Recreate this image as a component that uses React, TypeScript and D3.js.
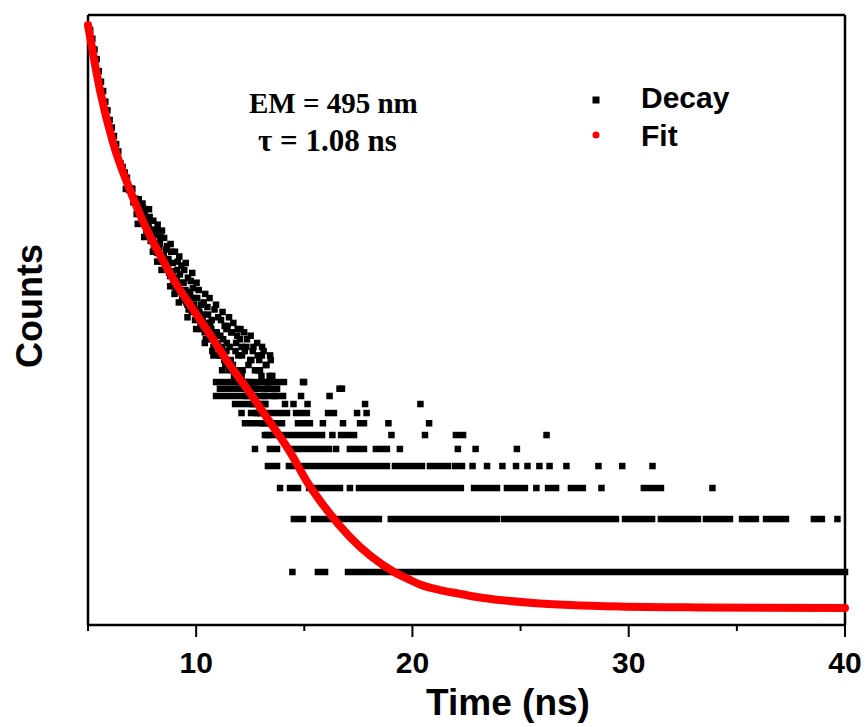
import React from "react";
import * as d3 from "d3";

// ---------- DATA ----------
const xTicksMajor = [10, 20, 30, 40];
const xTicksMinor = [5, 15, 25, 35];
const xLabel = "Time (ns)";
const yLabel = "Counts";
const annotation1 = "EM = 495 nm";
const annotation2 = "\u03c4 = 1.08 ns";
const legendDecay = "Decay";
const legendFit = "Fit";

// Decay: dense early part, [time ns, counts]
const decayHead: [number, number][] = [
  [5.0, 1259], [5.1, 1200], [5.2, 1070], [5.3, 930], [5.4, 820], [5.5, 700], [5.6, 610], [5.7, 540], [5.8, 470], [5.9, 420],
  [6.0, 370], [6.1, 335], [6.2, 300], [6.3, 270], [6.4, 245], [6.5, 210], [6.6, 200], [6.7, 186], [6.8, 174], [6.9, 148],
  [7.0, 151], [7.1, 126], [7.2, 132], [7.3, 112], [7.4, 117], [7.5, 98], [7.6, 102], [7.7, 87], [7.8, 91], [7.9, 76],
  [8.0, 79], [8.1, 74], [8.2, 65], [8.3, 69], [8.4, 58], [8.5, 63], [8.6, 54], [8.7, 56], [8.8, 48], [8.9, 51],
  [9.0, 42], [9.1, 47], [9.2, 39], [9.3, 44], [9.4, 35], [9.5, 40], [9.6, 33], [9.7, 36], [9.8, 30], [9.9, 33],
  [10.0, 28], [10.1, 31], [10.2, 25], [10.3, 28], [10.4, 23], [10.5, 26], [10.6, 21], [10.7, 24], [10.8, 19], [10.9, 22],
  [11.0, 20], [11.1, 17], [11.2, 19], [11.3, 16], [11.4, 18], [11.5, 14], [11.6, 16], [11.7, 15], [11.8, 13], [11.9, 14],
  [12.0, 12], [12.1, 13], [12.2, 12], [12.3, 10], [12.4, 11], [12.5, 11], [12.6, 9], [12.7, 10], [12.8, 8], [12.9, 9],
  [13.0, 8], [13.1, 7], [13.2, 9], [13.3, 6], [13.4, 7],
];
const decayHead2: [number, number][] = [
  [7.05, 150], [7.15, 128], [7.25, 108], [7.35, 131], [7.45, 95], [7.55, 117], [7.65, 100], [7.75, 84], [7.85, 104], [7.95, 78],
  [8.05, 70], [8.15, 88], [8.25, 66], [8.35, 80], [8.45, 61], [8.55, 58], [8.65, 71], [8.75, 50], [8.85, 66], [8.95, 45],
  [9.05, 41], [9.15, 58], [9.25, 49], [9.35, 36], [9.45, 52], [9.55, 34], [9.65, 31], [9.75, 45], [9.85, 41], [9.95, 27],
  [10.05, 36], [10.15, 30], [10.25, 24], [10.35, 34], [10.45, 21], [10.55, 29], [10.65, 26], [10.75, 18], [10.85, 31], [10.95, 23],
  [11.05, 17], [11.15, 27], [11.25, 21], [11.35, 15], [11.45, 25], [11.55, 19], [11.65, 23], [11.75, 13], [11.85, 20], [11.95, 17],
  [12.05, 24], [12.15, 14], [12.25, 18], [12.35, 21], [12.45, 12], [12.55, 16], [12.65, 19], [12.75, 11], [12.85, 17], [12.95, 14],
  [13.05, 19], [13.15, 10], [13.25, 15], [13.35, 12], [13.45, 16],
];
const decayHead3: [number, number][] = [
  [7.52, 124], [7.62, 110], [7.72, 96], [7.82, 115], [7.92, 88], [8.02, 99], [8.12, 82], [8.22, 94], [8.32, 74], [8.42, 87],
  [8.52, 79], [8.62, 68], [8.72, 60], [8.82, 73], [8.92, 57], [9.02, 66], [9.12, 52], [9.22, 62], [9.32, 55], [9.42, 44],
  [9.52, 57], [9.62, 47], [9.72, 39], [9.82, 50], [9.92, 36], [10.02, 44], [10.12, 40], [10.22, 33], [10.32, 29], [10.42, 38],
  [10.52, 32], [10.62, 36], [10.72, 27], [10.82, 23], [10.92, 33], [11.02, 28], [11.12, 22], [11.22, 30], [11.32, 25], [11.42, 20],
  [11.52, 28], [11.62, 23], [11.72, 26], [11.82, 18], [11.92, 24], [12.02, 21], [12.12, 17], [12.22, 23], [12.32, 19], [12.42, 15],
  [12.52, 22], [12.62, 18], [12.72, 14], [12.82, 20], [12.92, 16], [13.02, 13], [13.12, 18], [13.22, 15], [13.32, 11], [13.42, 17],
  [13.52, 13], [13.62, 10],
];
// Points lying below the fit (left side of the red curve)
const decayLow: [number, number][] = [
  [6.75, 150], [7.3, 95], [7.6, 80], [8.0, 66], [8.2, 58], [8.4, 52], [8.8, 42], [9.0, 38], [9.2, 34], [9.6, 28],
  [10.0, 24], [10.4, 20], [10.8, 17], [11.2, 14],
];
const decayOutliers: [number, number][] = [
  [13.04, 17], [12.1, 19], [12.5, 16], [11.9, 22], [13.4, 13], [12.85, 14], [11.4, 24], [14.94, 12], [16.74, 11],
];
// Decay tail: runs of consecutive channels at the same count level [counts, tStart, tEnd]
const decayRuns: [number, number, number][] = [
  [1, 14.45, 14.45], [1, 15.63, 15.96], [1, 17.02, 40.0],
  [2, 14.52, 14.94], [2, 15.45, 18.45], [2, 19.0, 23.9], [2, 24.23, 26.78], [2, 27.05, 29.41], [2, 29.83, 31.08],
  [2, 31.49, 33.2], [2, 33.57, 34.68], [2, 35.24, 35.88], [2, 36.35, 37.27], [2, 38.56, 38.93], [2, 39.65, 39.65],
  [3, 13.88, 13.88], [3, 14.34, 14.71], [3, 15.22, 16.65], [3, 17.11, 17.11], [3, 17.53, 22.24], [3, 22.85, 23.91],
  [3, 24.37, 25.2], [3, 25.73, 25.73], [3, 26.27, 26.64], [3, 27.33, 27.88], [3, 28.74, 28.74], [3, 30.7, 31.49], [3, 33.87, 33.87],
  [4, 13.32, 13.74], [4, 14.29, 18.82], [4, 19.19, 20.44], [4, 20.81, 21.64], [4, 21.97, 22.29], [4, 22.78, 22.78],
  [4, 23.45, 23.45], [4, 24.16, 24.16], [4, 24.79, 24.79], [4, 25.32, 25.32], [4, 25.87, 25.87], [4, 26.34, 26.34],
  [4, 27.12, 27.12], [4, 28.6, 28.6], [4, 29.7, 29.7], [4, 31.1, 31.1],
  [5, 12.72, 12.72], [5, 13.41, 13.74], [5, 14.34, 16.14], [5, 16.47, 16.47], [5, 17.11, 17.76], [5, 18.31, 18.82],
  [5, 19.42, 19.42], [5, 22.1, 22.1], [5, 22.92, 22.92], [5, 24.83, 24.83],
  [6, 13.18, 15.82], [6, 16.3, 16.3], [6, 16.7, 17.3], [6, 19.03, 19.03], [6, 20.58, 20.58], [6, 22.01, 22.34], [6, 26.2, 26.2],
  [7, 12.26, 13.97], [7, 14.71, 15.26], [7, 15.86, 15.86], [7, 16.79, 16.79], [7, 17.58, 17.76], [7, 18.89, 18.89], [7, 20.77, 20.77],
  [8, 12.1, 12.1], [8, 12.54, 14.2], [8, 14.62, 15.12], [8, 16.1, 16.37], [8, 17.44, 17.44], [8, 17.88, 17.88],
  [9, 11.8, 13.18], [9, 14.11, 14.11], [9, 14.5, 14.5], [9, 15.15, 15.15], [9, 17.81, 17.81], [9, 20.37, 20.37],
  [10, 10.92, 12.49], [10, 12.86, 14.02], [10, 14.85, 14.85], [10, 16.17, 16.17],
  [11, 11.1, 13.74], [11, 16.63, 16.63],
  [12, 10.92, 14.06], [12, 14.99, 14.99],
];
// Fit curve samples [time ns, counts]
const fitT = [5.0, 5.55, 6.16, 6.94, 7.73, 8.33, 9.02, 9.72, 10.5, 11.56, 12.49, 13.41, 14.34, 15.08, 16.05, 17.11, 19.15, 19.89, 20.35, 21.27, 22.11, 23.12, 24.05, 25.57, 27.28, 29.6, 33.29, 40.0];
const fitC = [1282, 548, 274, 148, 87.7, 63.2, 44.4, 32.9, 23.7, 15.0, 10.4, 7.11, 4.81, 3.33, 2.25, 1.58, 1.0, 0.901, 0.849, 0.79, 0.755, 0.716, 0.693, 0.667, 0.65, 0.637, 0.629, 0.624];

// ---------- LAYOUT ----------
const W = 867, H = 727;
const L = 88, R = 845, T = 15, B = 625;
const SQ = 6.5;

export default function App() {
  const x = d3.scaleLinear().domain([5, 40]).range([L, R]);
  const y = d3.scaleLog().domain([0.5, 1460]).range([B, T]);
  const fitPts: [number, number][] = fitT.map((t, i) => [x(t), y(fitC[i])]);
  const fitPath = d3.line().curve(d3.curveMonotoneX)(fitPts) || "";
  const pts = [...decayHead, ...decayHead2, ...decayHead3, ...decayLow, ...decayOutliers];
  const sans = "'Liberation Sans', Arial, sans-serif";
  const serif = "'Liberation Serif', 'Times New Roman', serif";
  return (
    <svg width={W} height={H} style={{ position: "absolute", left: 0, top: 0, background: "#fff" }}>
      <rect x={0} y={0} width={W} height={H} fill="#fff" />
      {/* data tail runs */}
      <g fill="#000">
        {decayRuns.map((r, i) => (
          <rect key={"r" + i} x={x(r[1]) - SQ / 2} y={y(r[0]) - SQ / 2} width={x(r[2]) - x(r[1]) + SQ} height={SQ} />
        ))}
        {pts.map((p, i) => (
          <rect key={"p" + i} x={x(p[0]) - SQ / 2} y={y(p[1]) - SQ / 2} width={SQ} height={SQ} />
        ))}
      </g>
      {/* frame */}
      <g stroke="#000" strokeWidth={2.5} fill="none">
        <line x1={L} y1={T} x2={R} y2={T} />
        <line x1={R} y1={T} x2={R} y2={B} />
        <line x1={L} y1={T} x2={L} y2={B} />
        <line x1={L - 1} y1={B} x2={R + 1} y2={B} />
        {xTicksMajor.map((t) => (
          <line key={"M" + t} x1={x(t)} y1={B} x2={x(t)} y2={B + 12} strokeWidth={2} />
        ))}
        {xTicksMinor.map((t) => (
          <line key={"m" + t} x1={x(t)} y1={B} x2={x(t)} y2={B + 6} strokeWidth={2} />
        ))}
      </g>
      {/* fit */}
      <path d={fitPath} fill="none" stroke="#ff0000" strokeWidth={8} strokeLinecap="round" strokeLinejoin="round" />
      {/* tick labels */}
      {xTicksMajor.map((t) => (
        <text key={"l" + t} x={x(t)} y={673} textAnchor="middle" fontFamily={sans} fontWeight="bold" fontSize={30}>
          {t}
        </text>
      ))}
      <text x={508} y={715} textAnchor="middle" fontFamily={sans} fontWeight="bold" fontSize={37}>{xLabel}</text>
      <text transform="translate(42,306) rotate(-90)" textAnchor="middle" fontFamily={sans} fontWeight="bold" fontSize={36}>{yLabel}</text>
      {/* annotations */}
      <text x={249} y={113} fontFamily={serif} fontWeight="bold" fontSize={29}>{annotation1}</text>
      <text x={258} y={151} fontFamily={serif} fontWeight="bold" fontSize={31}>{annotation2}</text>
      {/* legend */}
      <rect x={596 - 3.5} y={100 - 3.5} width={7} height={7} fill="#000" />
      <text x={641} y={108} fontFamily={sans} fontWeight="bold" fontSize={30}>{legendDecay}</text>
      <circle cx={596} cy={135} r={3.5} fill="#ff0000" />
      <text x={641} y={146} fontFamily={sans} fontWeight="bold" fontSize={30}>{legendFit}</text>
    </svg>
  );
}
